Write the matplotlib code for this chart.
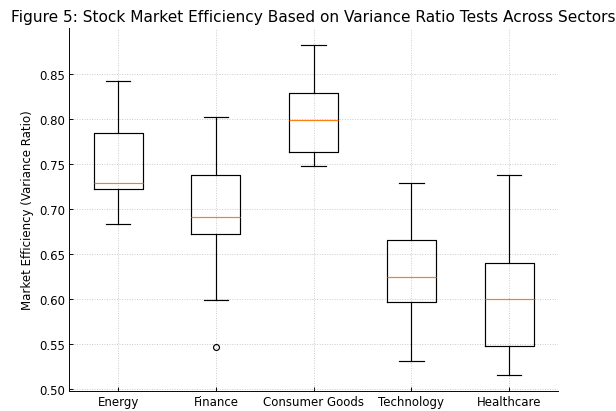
import matplotlib
matplotlib.use("Agg")
import matplotlib.pyplot as plt

# box statistics
sectors = ["Energy", "Finance", "Consumer Goods", "Technology", "Healthcare"]
whisker_low = [0.683, 0.599, 0.748, 0.531, 0.516]
q1 = [0.7215, 0.672, 0.763, 0.597, 0.5475]
median = [0.729, 0.691, 0.799, 0.624, 0.600]
q3 = [0.784, 0.738, 0.828, 0.666, 0.640]
whisker_high = [0.842, 0.802, 0.882, 0.729, 0.738]
outliers = [[], [0.547], [], [], []]

stats = []
for i in range(len(sectors)):
    stats.append({
        "label": sectors[i],
        "whislo": whisker_low[i],
        "q1": q1[i],
        "med": median[i],
        "q3": q3[i],
        "whishi": whisker_high[i],
        "fliers": outliers[i],
    })

plt.rcParams["xtick.direction"] = "in"
plt.rcParams["ytick.direction"] = "in"

fig = plt.figure(figsize=(616 / 85, 412 / 85), dpi=85)
ax = fig.add_axes([0.1125, 0.0493, 0.7935, 0.8803])

ax.bxp(stats, widths=0.5,
       medianprops=dict(color="#ff7f0e", linewidth=1),
       flierprops=dict(marker="o", markerfacecolor="none", markeredgecolor="black", markersize=5))

ax.set_ylim(0.4985, 0.9005)
ax.set_yticks([0.50, 0.55, 0.60, 0.65, 0.70, 0.75, 0.80, 0.85])
ax.grid(True, linestyle=":", linewidth=0.8, color="#c8c8c8")
ax.set_axisbelow(True)
ax.spines["top"].set_visible(False)
ax.spines["right"].set_visible(False)

ax.set_ylabel("Market Efficiency (Variance Ratio)")
ax.set_title("Figure 5: Stock Market Efficiency Based on Variance Ratio Tests Across Sectors", fontsize=13)

fig.savefig("out.png", dpi=85)
